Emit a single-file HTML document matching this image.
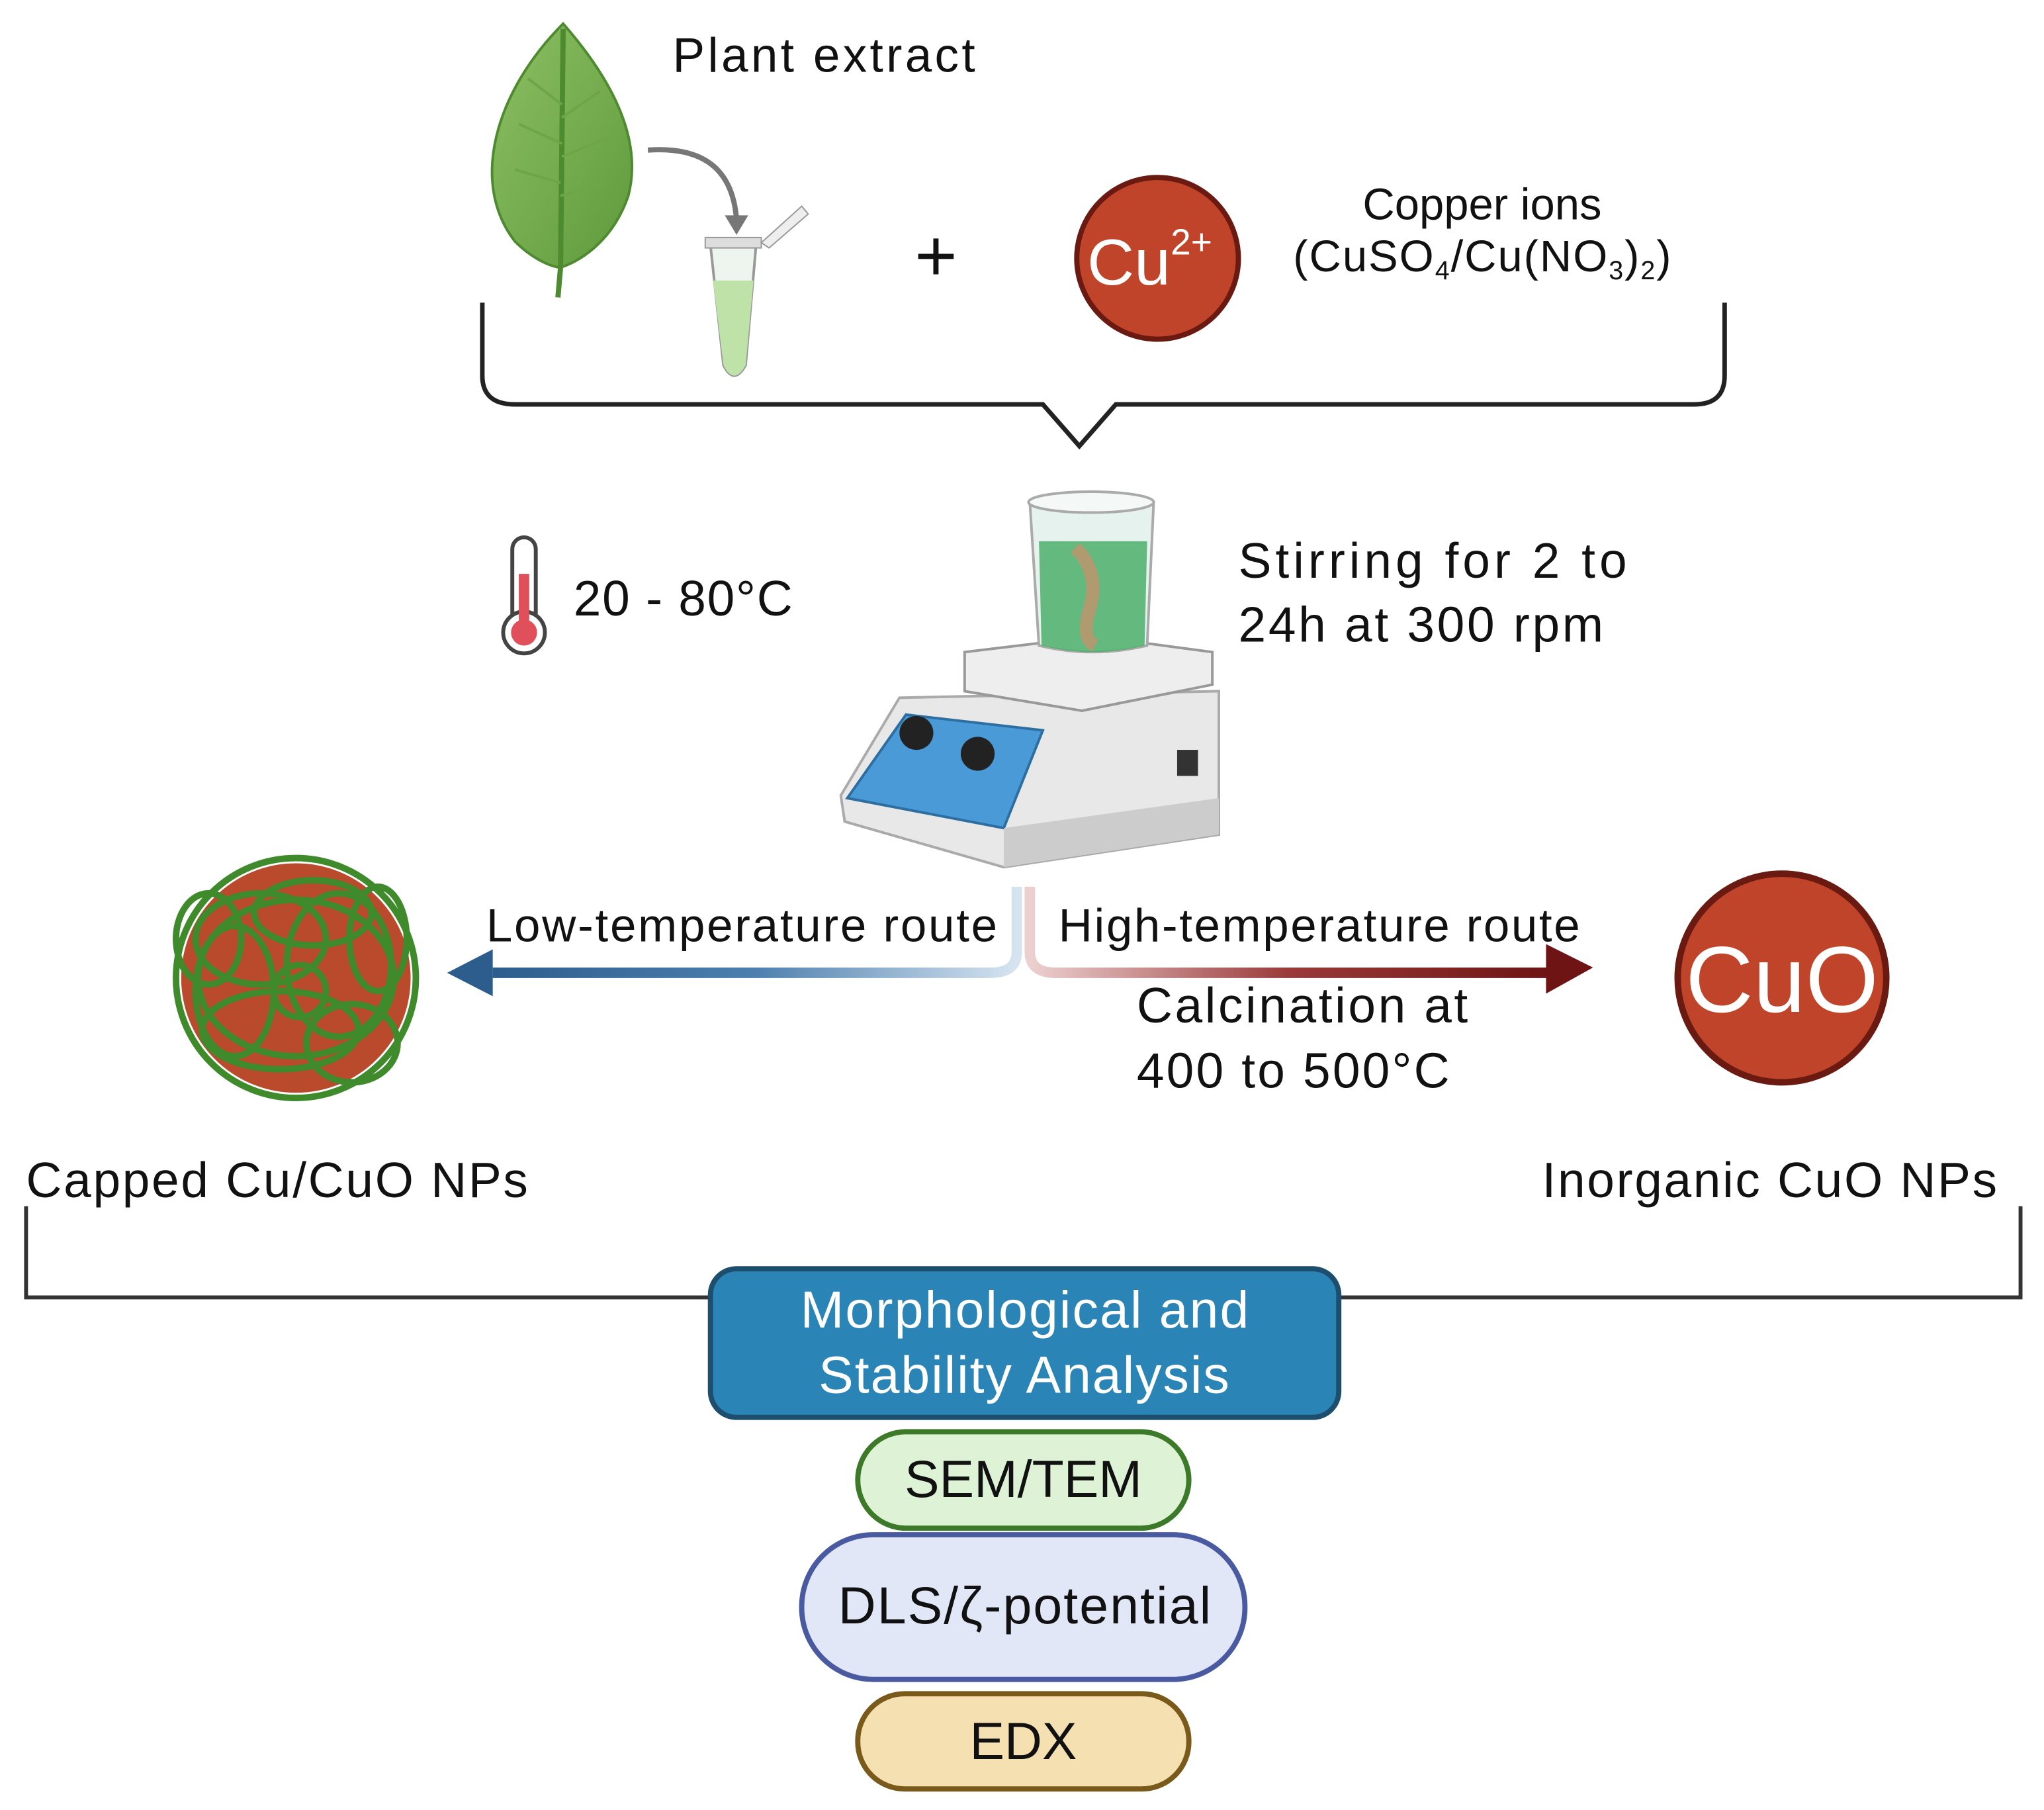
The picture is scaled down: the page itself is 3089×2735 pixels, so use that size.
<!DOCTYPE html>
<html><head><meta charset="utf-8"><style>
html,body{margin:0;padding:0;background:#fff;}
svg{display:block;}
text{font-family:"Liberation Sans",sans-serif;fill:#111;}
</style></head><body>
<svg width="3089" height="2735" viewBox="0 0 1568 1388" xmlns="http://www.w3.org/2000/svg">
<defs>
<linearGradient id="lg" x1="1" y1="0" x2="0" y2="0"><stop offset="0" stop-color="#d6e4f0"/><stop offset="0.5" stop-color="#4d7fae"/><stop offset="1" stop-color="#2c5d8c"/></linearGradient>
<linearGradient id="hg" x1="0" y1="0" x2="1" y2="0"><stop offset="0" stop-color="#ecd0d0"/><stop offset="0.5" stop-color="#9a3a3a"/><stop offset="1" stop-color="#6e1414"/></linearGradient>
<linearGradient id="leafg" x1="0" y1="0" x2="1" y2="1"><stop offset="0" stop-color="#8cc063"/><stop offset="1" stop-color="#5f9a3c"/></linearGradient>
</defs>
<path d="M432 18 C380 70 360 140 395 185 C410 200 425 205 430 205 C445 200 470 185 482 150 C495 100 460 50 432 18Z" fill="url(#leafg)" stroke="#4e8a30" stroke-width="2"/>
<path d="M432 22 L430 205 L428 228" stroke="#4e8a30" stroke-width="4" fill="none"/>
<path d="M431 80 L405 60 M431 110 L398 95 M430 140 L395 130 M431 90 L460 70 M431 120 L468 105 M430 150 L465 140" stroke="#6fa54a" stroke-width="2" fill="none"/>
<text x="516" y="55" font-size="37" textLength="232" lengthAdjust="spacing">Plant extract</text>
<path d="M497 115 C540 112 562 130 565 168" stroke="#777" stroke-width="4" fill="none"/>
<path d="M556 165 L565 180 L574 165Z" fill="#777"/>
<path d="M545 188 L580 188 L572 280 Q563 296 555 280 Z" fill="#eef4ee" stroke="#999" stroke-width="2"/>
<path d="M547 215 L578 215 L572 280 Q563 296 555 280 Z" fill="#bfe2a8"/>
<rect x="541" y="182" width="43" height="8" fill="#ddd" stroke="#999"/>
<path d="M584 186 L615 158 L620 164 L590 190Z" fill="#eee" stroke="#999"/>
<text x="718" y="215" font-size="56" text-anchor="middle">+</text>
<circle cx="888" cy="198" r="62" fill="#c0442a" stroke="#6b1a12" stroke-width="4"/>
<text x="834" y="218" font-size="50" style="fill:#fff">Cu</text>
<text x="898" y="195" font-size="28" style="fill:#fff">2+</text>
<text x="1137" y="168" font-size="34" text-anchor="middle">Copper ions</text>
<text x="992" y="208" font-size="34" textLength="290" lengthAdjust="spacing">(CuSO<tspan font-size="20" dy="6">4</tspan><tspan dy="-6">/Cu(NO</tspan><tspan font-size="20" dy="6">3</tspan><tspan dy="-6">)</tspan><tspan font-size="20" dy="6">2</tspan><tspan dy="-6">)</tspan></text>
<path d="M370 232 L370 288 Q370 310 395 310 L800 310 L828 342 L856 310 L1300 310 Q1323 310 1323 288 L1323 232" stroke="#222" stroke-width="3.5" fill="none"/>
<rect x="393" y="412" width="18" height="70" rx="9" fill="#fff" stroke="#444" stroke-width="3"/>
<circle cx="402" cy="485" r="16" fill="#fff" stroke="#444" stroke-width="3"/>
<circle cx="402" cy="485" r="10" fill="#e0505a"/>
<rect x="398" y="440" width="8" height="45" fill="#e0505a"/>
<text x="440" y="472" font-size="38" textLength="168" lengthAdjust="spacing">20 - 80°C</text>
<path d="M645 610 L690 535 L935 530 L935 640 L770 665 L648 630Z" fill="#e8e8e8" stroke="#aaa" stroke-width="2"/>
<path d="M650 612 L695 548 L800 560 L770 635Z" fill="#4a9ad8" stroke="#2d6ea0" stroke-width="2"/>
<path d="M770 635 L935 612 L935 640 L770 665Z" fill="#ccc"/>
<circle cx="703" cy="562" r="13" fill="#222"/><circle cx="750" cy="578" r="13" fill="#222"/>
<rect x="903" y="575" width="16" height="20" fill="#333"/>
<path d="M740 500 L840 488 L930 500 L930 525 L830 545 L740 530Z" fill="#eee" stroke="#999" stroke-width="2"/>
<path d="M790 385 L885 385 L880 495 Q838 505 797 495Z" fill="#e6f2ee" stroke="#aaa" stroke-width="2"/>
<path d="M797 415 L880 415 L878 495 Q838 505 799 495Z" fill="#4caf6a" opacity="0.85"/>
<path d="M825 420 Q845 440 835 470 Q830 490 840 495" stroke="#b09a70" stroke-width="10" fill="none"/>
<ellipse cx="837" cy="385" rx="48" ry="8" fill="#f4f8f6" stroke="#aaa" stroke-width="2"/>
<text x="950" y="443" font-size="38" textLength="298" lengthAdjust="spacing">Stirring for 2 to</text>
<text x="950" y="492" font-size="38" textLength="280" lengthAdjust="spacing">24h at 300 rpm</text>
<path d="M780 680 L780 730 Q780 746 760 746 L378 746" stroke="url(#lg)" stroke-width="8" fill="none"/>
<path d="M343 746 L378 728 L378 764Z" fill="#2c5d8c"/>
<path d="M790 680 L790 730 Q790 746 810 746 L1188 746" stroke="url(#hg)" stroke-width="8" fill="none"/>
<path d="M1222 742 L1186 724 L1186 762Z" fill="#6e1414"/>
<text x="373" y="722" font-size="36" textLength="392" lengthAdjust="spacing">Low-temperature route</text>
<text x="812" y="722" font-size="36" textLength="400" lengthAdjust="spacing">High-temperature route</text>
<text x="872" y="784" font-size="38" textLength="254" lengthAdjust="spacing">Calcination at</text>
<text x="872" y="834" font-size="38" textLength="240" lengthAdjust="spacing">400 to 500°C</text>
<circle cx="1367" cy="750" r="80" fill="#c0442a" stroke="#6b1a12" stroke-width="5"/>
<text x="1367" y="776" font-size="72" text-anchor="middle" style="fill:#fff">CuO</text>
<circle cx="227" cy="750" r="88" fill="#b94a2c"/>
<g fill="none" stroke="#3f8a2a" stroke-width="5">
<circle cx="227" cy="750" r="92"/>
<ellipse cx="200" cy="720" rx="50" ry="35"/><ellipse cx="260" cy="740" rx="40" ry="55"/>
<ellipse cx="215" cy="790" rx="60" ry="30"/><ellipse cx="180" cy="760" rx="30" ry="50"/>
<ellipse cx="240" cy="700" rx="45" ry="25"/><ellipse cx="270" cy="800" rx="35" ry="30"/>
<ellipse cx="227" cy="750" rx="75" ry="60"/><ellipse cx="160" cy="720" rx="25" ry="35"/>
<ellipse cx="290" cy="720" rx="22" ry="40"/><ellipse cx="230" cy="760" rx="20" ry="20"/>
</g>
<text x="20" y="918" font-size="38" textLength="385" lengthAdjust="spacing">Capped Cu/CuO NPs</text>
<text x="1183" y="918" font-size="38" textLength="349" lengthAdjust="spacing">Inorganic CuO NPs</text>
<path d="M20 925 L20 995 L1550 995 L1550 925" stroke="#333" stroke-width="3" fill="none"/>
<rect x="545" y="973" width="482" height="114" rx="20" fill="#2a84b5" stroke="#1d4e6e" stroke-width="4"/>
<text x="614" y="1018" font-size="40" textLength="344" lengthAdjust="spacing" style="fill:#fff">Morphological and</text>
<text x="628" y="1068" font-size="40" textLength="315" lengthAdjust="spacing" style="fill:#fff">Stability Analysis</text>
<rect x="658" y="1098" width="254" height="74" rx="37" fill="#def2d6" stroke="#3c7a2a" stroke-width="4"/>
<text x="785" y="1148" font-size="40" text-anchor="middle">SEM/TEM</text>
<rect x="615" y="1177" width="340" height="111" rx="55" fill="#e2e7f8" stroke="#4a5aa0" stroke-width="4"/>
<text x="643" y="1245" font-size="40" textLength="286" lengthAdjust="spacing">DLS/ζ-potential</text>
<rect x="658" y="1299" width="254" height="73" rx="36" fill="#f4e0b0" stroke="#7a5a1a" stroke-width="4"/>
<text x="785" y="1349" font-size="40" text-anchor="middle">EDX</text>
</svg>
</body></html>
